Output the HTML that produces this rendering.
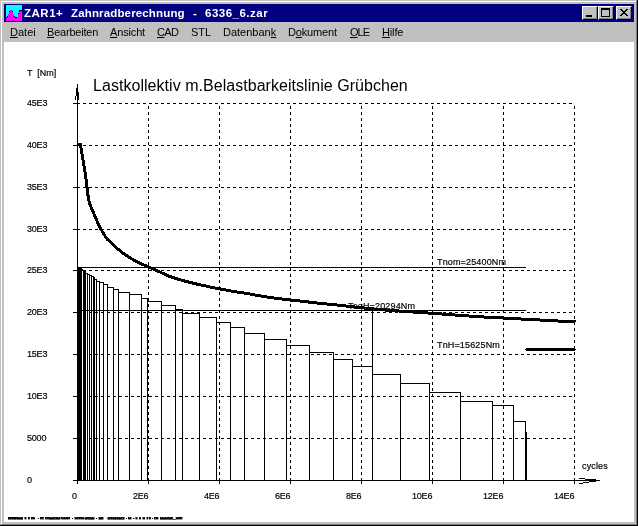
<!DOCTYPE html>
<html><head><meta charset="utf-8"><title>ZAR1+ Zahnradberechnung - 6336_6.zar</title>
<style>
html,body{margin:0;padding:0;background:#c0c0c0;}
body{width:638px;height:526px;position:relative;overflow:hidden;font-family:"Liberation Sans",sans-serif;}
.f{position:absolute;}
.s{-webkit-text-stroke:0.18px #000;}
.t{will-change:transform;position:absolute;white-space:pre;line-height:1.15;color:#000;font-family:"Liberation Sans",sans-serif;}
.btn{position:absolute;top:6px;width:16px;height:14px;background:#c0c0c0;box-sizing:border-box;
 border-top:1px solid #fff;border-left:1px solid #fff;border-right:1px solid #000;border-bottom:1px solid #000;}
.btn:after{content:"";position:absolute;left:0;top:0;right:0;bottom:0;border-right:1px solid #808080;border-bottom:1px solid #808080;}
svg{position:absolute;left:0;top:0;}
</style></head><body>
<!-- window frame -->
<div class="f" style="left:0;top:0;width:638px;height:526px;background:#c0c0c0"></div>
<div class="f" style="left:0;top:0;width:638px;height:526px;background:#000"></div>
<div class="f" style="left:0;top:0;width:637px;height:525px;background:#c0c0c0"></div>
<div class="f" style="left:1px;top:1px;width:636px;height:524px;background:#808080"></div>
<div class="f" style="left:1px;top:1px;width:635px;height:523px;background:#fff"></div>
<div class="f" style="left:2px;top:2px;width:634px;height:522px;background:#c0c0c0"></div>
<!-- title bar -->
<div class="f" style="left:4px;top:4px;width:630px;height:18px;background:#000080"></div>
<!-- client -->
<div class="f" style="left:4px;top:42px;width:630px;height:480px;background:#fff"></div>
<!-- caption buttons -->
<div class="btn" style="left:582px"></div>
<div class="btn" style="left:598px"></div>
<div class="btn" style="left:616px"></div>
<svg width="638" height="526" viewBox="0 0 638 526" shape-rendering="crispEdges">
<rect x="6" y="5" width="16" height="16" fill="#00ffff"/><rect x="6" y="18" width="1" height="3" fill="#ff00ff"/><rect x="7" y="17" width="1" height="4" fill="#ff00ff"/><rect x="8" y="14" width="1" height="7" fill="#ff00ff"/><rect x="9" y="12" width="1" height="9" fill="#ff00ff"/><rect x="10" y="10" width="1" height="11" fill="#ff00ff"/><rect x="11" y="10" width="1" height="11" fill="#ff00ff"/><rect x="12" y="12" width="1" height="9" fill="#ff00ff"/><rect x="13" y="14" width="1" height="7" fill="#ff00ff"/><rect x="14" y="17" width="1" height="4" fill="#ff00ff"/><rect x="15" y="18" width="1" height="3" fill="#ff00ff"/><rect x="16" y="18" width="1" height="3" fill="#ff00ff"/><rect x="17" y="17" width="1" height="4" fill="#ff00ff"/><rect x="18" y="14" width="1" height="7" fill="#ff00ff"/><rect x="19" y="12" width="1" height="9" fill="#ff00ff"/><rect x="20" y="11" width="1" height="10" fill="#ff00ff"/><rect x="21" y="11" width="1" height="10" fill="#ff00ff"/><rect x="6" y="17" width="1" height="1" fill="#000"/><rect x="7" y="16" width="1" height="1" fill="#000"/><rect x="9" y="11" width="1" height="1" fill="#000"/><rect x="12" y="11" width="1" height="1" fill="#000"/><rect x="14" y="16" width="1" height="1" fill="#000"/><rect x="15" y="17" width="1" height="1" fill="#000"/><rect x="16" y="17" width="1" height="1" fill="#000"/><rect x="18" y="13" width="1" height="1" fill="#000"/><rect x="19" y="10" width="1" height="1" fill="#000"/><rect x="19" y="11" width="1" height="1" fill="#000"/><rect x="20" y="10" width="1" height="1" fill="#000"/><rect x="21" y="10" width="1" height="1" fill="#000"/>
<!-- caption glyphs -->
<rect x="586" y="15" width="6" height="2" fill="#000"/>
<rect x="601" y="8" width="9" height="2" fill="#000"/><rect x="601" y="8" width="1" height="9" fill="#000"/><rect x="609" y="8" width="1" height="9" fill="#000"/><rect x="601" y="16" width="9" height="1" fill="#000"/>
<g><rect x="620" y="9" width="2" height="1" fill="#000"/><rect x="626" y="9" width="2" height="1" fill="#000"/><rect x="621" y="10" width="2" height="1" fill="#000"/><rect x="625" y="10" width="2" height="1" fill="#000"/><rect x="622" y="11" width="2" height="1" fill="#000"/><rect x="624" y="11" width="2" height="1" fill="#000"/><rect x="623" y="12" width="2" height="1" fill="#000"/><rect x="623" y="12" width="2" height="1" fill="#000"/><rect x="624" y="13" width="2" height="1" fill="#000"/><rect x="622" y="13" width="2" height="1" fill="#000"/><rect x="625" y="14" width="2" height="1" fill="#000"/><rect x="621" y="14" width="2" height="1" fill="#000"/><rect x="626" y="15" width="2" height="1" fill="#000"/><rect x="620" y="15" width="2" height="1" fill="#000"/></g>
<path fill="#000" d="M73 438h4v1h-4zM77 438h3v1h-3zM83 438h3v1h-3zM89 438h3v1h-3zM95 438h3v1h-3zM101 438h3v1h-3zM107 438h3v1h-3zM113 438h3v1h-3zM119 438h3v1h-3zM125 438h3v1h-3zM131 438h3v1h-3zM137 438h3v1h-3zM143 438h3v1h-3zM149 438h3v1h-3zM155 438h3v1h-3zM161 438h3v1h-3zM167 438h3v1h-3zM173 438h3v1h-3zM179 438h3v1h-3zM185 438h3v1h-3zM191 438h3v1h-3zM197 438h3v1h-3zM203 438h3v1h-3zM209 438h3v1h-3zM215 438h3v1h-3zM221 438h3v1h-3zM227 438h3v1h-3zM233 438h3v1h-3zM239 438h3v1h-3zM245 438h3v1h-3zM251 438h3v1h-3zM257 438h3v1h-3zM263 438h3v1h-3zM269 438h3v1h-3zM275 438h3v1h-3zM281 438h3v1h-3zM287 438h3v1h-3zM293 438h3v1h-3zM299 438h3v1h-3zM305 438h3v1h-3zM311 438h3v1h-3zM317 438h3v1h-3zM323 438h3v1h-3zM329 438h3v1h-3zM335 438h3v1h-3zM341 438h3v1h-3zM347 438h3v1h-3zM353 438h3v1h-3zM359 438h3v1h-3zM365 438h3v1h-3zM371 438h3v1h-3zM377 438h3v1h-3zM383 438h3v1h-3zM389 438h3v1h-3zM395 438h3v1h-3zM401 438h3v1h-3zM407 438h3v1h-3zM413 438h3v1h-3zM419 438h3v1h-3zM425 438h3v1h-3zM431 438h3v1h-3zM437 438h3v1h-3zM443 438h3v1h-3zM449 438h3v1h-3zM455 438h3v1h-3zM461 438h3v1h-3zM467 438h3v1h-3zM473 438h3v1h-3zM479 438h3v1h-3zM485 438h3v1h-3zM491 438h3v1h-3zM497 438h3v1h-3zM503 438h3v1h-3zM509 438h3v1h-3zM515 438h3v1h-3zM521 438h3v1h-3zM527 438h3v1h-3zM533 438h3v1h-3zM539 438h3v1h-3zM545 438h3v1h-3zM551 438h3v1h-3zM557 438h3v1h-3zM563 438h3v1h-3zM569 438h3v1h-3zM73 396h4v1h-4zM77 396h3v1h-3zM83 396h3v1h-3zM89 396h3v1h-3zM95 396h3v1h-3zM101 396h3v1h-3zM107 396h3v1h-3zM113 396h3v1h-3zM119 396h3v1h-3zM125 396h3v1h-3zM131 396h3v1h-3zM137 396h3v1h-3zM143 396h3v1h-3zM149 396h3v1h-3zM155 396h3v1h-3zM161 396h3v1h-3zM167 396h3v1h-3zM173 396h3v1h-3zM179 396h3v1h-3zM185 396h3v1h-3zM191 396h3v1h-3zM197 396h3v1h-3zM203 396h3v1h-3zM209 396h3v1h-3zM215 396h3v1h-3zM221 396h3v1h-3zM227 396h3v1h-3zM233 396h3v1h-3zM239 396h3v1h-3zM245 396h3v1h-3zM251 396h3v1h-3zM257 396h3v1h-3zM263 396h3v1h-3zM269 396h3v1h-3zM275 396h3v1h-3zM281 396h3v1h-3zM287 396h3v1h-3zM293 396h3v1h-3zM299 396h3v1h-3zM305 396h3v1h-3zM311 396h3v1h-3zM317 396h3v1h-3zM323 396h3v1h-3zM329 396h3v1h-3zM335 396h3v1h-3zM341 396h3v1h-3zM347 396h3v1h-3zM353 396h3v1h-3zM359 396h3v1h-3zM365 396h3v1h-3zM371 396h3v1h-3zM377 396h3v1h-3zM383 396h3v1h-3zM389 396h3v1h-3zM395 396h3v1h-3zM401 396h3v1h-3zM407 396h3v1h-3zM413 396h3v1h-3zM419 396h3v1h-3zM425 396h3v1h-3zM431 396h3v1h-3zM437 396h3v1h-3zM443 396h3v1h-3zM449 396h3v1h-3zM455 396h3v1h-3zM461 396h3v1h-3zM467 396h3v1h-3zM473 396h3v1h-3zM479 396h3v1h-3zM485 396h3v1h-3zM491 396h3v1h-3zM497 396h3v1h-3zM503 396h3v1h-3zM509 396h3v1h-3zM515 396h3v1h-3zM521 396h3v1h-3zM527 396h3v1h-3zM533 396h3v1h-3zM539 396h3v1h-3zM545 396h3v1h-3zM551 396h3v1h-3zM557 396h3v1h-3zM563 396h3v1h-3zM569 396h3v1h-3zM73 354h4v1h-4zM77 354h3v1h-3zM83 354h3v1h-3zM89 354h3v1h-3zM95 354h3v1h-3zM101 354h3v1h-3zM107 354h3v1h-3zM113 354h3v1h-3zM119 354h3v1h-3zM125 354h3v1h-3zM131 354h3v1h-3zM137 354h3v1h-3zM143 354h3v1h-3zM149 354h3v1h-3zM155 354h3v1h-3zM161 354h3v1h-3zM167 354h3v1h-3zM173 354h3v1h-3zM179 354h3v1h-3zM185 354h3v1h-3zM191 354h3v1h-3zM197 354h3v1h-3zM203 354h3v1h-3zM209 354h3v1h-3zM215 354h3v1h-3zM221 354h3v1h-3zM227 354h3v1h-3zM233 354h3v1h-3zM239 354h3v1h-3zM245 354h3v1h-3zM251 354h3v1h-3zM257 354h3v1h-3zM263 354h3v1h-3zM269 354h3v1h-3zM275 354h3v1h-3zM281 354h3v1h-3zM287 354h3v1h-3zM293 354h3v1h-3zM299 354h3v1h-3zM305 354h3v1h-3zM311 354h3v1h-3zM317 354h3v1h-3zM323 354h3v1h-3zM329 354h3v1h-3zM335 354h3v1h-3zM341 354h3v1h-3zM347 354h3v1h-3zM353 354h3v1h-3zM359 354h3v1h-3zM365 354h3v1h-3zM371 354h3v1h-3zM377 354h3v1h-3zM383 354h3v1h-3zM389 354h3v1h-3zM395 354h3v1h-3zM401 354h3v1h-3zM407 354h3v1h-3zM413 354h3v1h-3zM419 354h3v1h-3zM425 354h3v1h-3zM431 354h3v1h-3zM437 354h3v1h-3zM443 354h3v1h-3zM449 354h3v1h-3zM455 354h3v1h-3zM461 354h3v1h-3zM467 354h3v1h-3zM473 354h3v1h-3zM479 354h3v1h-3zM485 354h3v1h-3zM491 354h3v1h-3zM497 354h3v1h-3zM503 354h3v1h-3zM509 354h3v1h-3zM515 354h3v1h-3zM521 354h3v1h-3zM527 354h3v1h-3zM533 354h3v1h-3zM539 354h3v1h-3zM545 354h3v1h-3zM551 354h3v1h-3zM557 354h3v1h-3zM563 354h3v1h-3zM569 354h3v1h-3zM73 312h4v1h-4zM77 312h3v1h-3zM83 312h3v1h-3zM89 312h3v1h-3zM95 312h3v1h-3zM101 312h3v1h-3zM107 312h3v1h-3zM113 312h3v1h-3zM119 312h3v1h-3zM125 312h3v1h-3zM131 312h3v1h-3zM137 312h3v1h-3zM143 312h3v1h-3zM149 312h3v1h-3zM155 312h3v1h-3zM161 312h3v1h-3zM167 312h3v1h-3zM173 312h3v1h-3zM179 312h3v1h-3zM185 312h3v1h-3zM191 312h3v1h-3zM197 312h3v1h-3zM203 312h3v1h-3zM209 312h3v1h-3zM215 312h3v1h-3zM221 312h3v1h-3zM227 312h3v1h-3zM233 312h3v1h-3zM239 312h3v1h-3zM245 312h3v1h-3zM251 312h3v1h-3zM257 312h3v1h-3zM263 312h3v1h-3zM269 312h3v1h-3zM275 312h3v1h-3zM281 312h3v1h-3zM287 312h3v1h-3zM293 312h3v1h-3zM299 312h3v1h-3zM305 312h3v1h-3zM311 312h3v1h-3zM317 312h3v1h-3zM323 312h3v1h-3zM329 312h3v1h-3zM335 312h3v1h-3zM341 312h3v1h-3zM347 312h3v1h-3zM353 312h3v1h-3zM359 312h3v1h-3zM365 312h3v1h-3zM371 312h3v1h-3zM377 312h3v1h-3zM383 312h3v1h-3zM389 312h3v1h-3zM395 312h3v1h-3zM401 312h3v1h-3zM407 312h3v1h-3zM413 312h3v1h-3zM419 312h3v1h-3zM425 312h3v1h-3zM431 312h3v1h-3zM437 312h3v1h-3zM443 312h3v1h-3zM449 312h3v1h-3zM455 312h3v1h-3zM461 312h3v1h-3zM467 312h3v1h-3zM473 312h3v1h-3zM479 312h3v1h-3zM485 312h3v1h-3zM491 312h3v1h-3zM497 312h3v1h-3zM503 312h3v1h-3zM509 312h3v1h-3zM515 312h3v1h-3zM521 312h3v1h-3zM527 312h3v1h-3zM533 312h3v1h-3zM539 312h3v1h-3zM545 312h3v1h-3zM551 312h3v1h-3zM557 312h3v1h-3zM563 312h3v1h-3zM569 312h3v1h-3zM73 270h4v1h-4zM77 270h3v1h-3zM83 270h3v1h-3zM89 270h3v1h-3zM95 270h3v1h-3zM101 270h3v1h-3zM107 270h3v1h-3zM113 270h3v1h-3zM119 270h3v1h-3zM125 270h3v1h-3zM131 270h3v1h-3zM137 270h3v1h-3zM143 270h3v1h-3zM149 270h3v1h-3zM155 270h3v1h-3zM161 270h3v1h-3zM167 270h3v1h-3zM173 270h3v1h-3zM179 270h3v1h-3zM185 270h3v1h-3zM191 270h3v1h-3zM197 270h3v1h-3zM203 270h3v1h-3zM209 270h3v1h-3zM215 270h3v1h-3zM221 270h3v1h-3zM227 270h3v1h-3zM233 270h3v1h-3zM239 270h3v1h-3zM245 270h3v1h-3zM251 270h3v1h-3zM257 270h3v1h-3zM263 270h3v1h-3zM269 270h3v1h-3zM275 270h3v1h-3zM281 270h3v1h-3zM287 270h3v1h-3zM293 270h3v1h-3zM299 270h3v1h-3zM305 270h3v1h-3zM311 270h3v1h-3zM317 270h3v1h-3zM323 270h3v1h-3zM329 270h3v1h-3zM335 270h3v1h-3zM341 270h3v1h-3zM347 270h3v1h-3zM353 270h3v1h-3zM359 270h3v1h-3zM365 270h3v1h-3zM371 270h3v1h-3zM377 270h3v1h-3zM383 270h3v1h-3zM389 270h3v1h-3zM395 270h3v1h-3zM401 270h3v1h-3zM407 270h3v1h-3zM413 270h3v1h-3zM419 270h3v1h-3zM425 270h3v1h-3zM431 270h3v1h-3zM437 270h3v1h-3zM443 270h3v1h-3zM449 270h3v1h-3zM455 270h3v1h-3zM461 270h3v1h-3zM467 270h3v1h-3zM473 270h3v1h-3zM479 270h3v1h-3zM485 270h3v1h-3zM491 270h3v1h-3zM497 270h3v1h-3zM503 270h3v1h-3zM509 270h3v1h-3zM515 270h3v1h-3zM521 270h3v1h-3zM527 270h3v1h-3zM533 270h3v1h-3zM539 270h3v1h-3zM545 270h3v1h-3zM551 270h3v1h-3zM557 270h3v1h-3zM563 270h3v1h-3zM569 270h3v1h-3zM73 229h4v1h-4zM77 229h3v1h-3zM83 229h3v1h-3zM89 229h3v1h-3zM95 229h3v1h-3zM101 229h3v1h-3zM107 229h3v1h-3zM113 229h3v1h-3zM119 229h3v1h-3zM125 229h3v1h-3zM131 229h3v1h-3zM137 229h3v1h-3zM143 229h3v1h-3zM149 229h3v1h-3zM155 229h3v1h-3zM161 229h3v1h-3zM167 229h3v1h-3zM173 229h3v1h-3zM179 229h3v1h-3zM185 229h3v1h-3zM191 229h3v1h-3zM197 229h3v1h-3zM203 229h3v1h-3zM209 229h3v1h-3zM215 229h3v1h-3zM221 229h3v1h-3zM227 229h3v1h-3zM233 229h3v1h-3zM239 229h3v1h-3zM245 229h3v1h-3zM251 229h3v1h-3zM257 229h3v1h-3zM263 229h3v1h-3zM269 229h3v1h-3zM275 229h3v1h-3zM281 229h3v1h-3zM287 229h3v1h-3zM293 229h3v1h-3zM299 229h3v1h-3zM305 229h3v1h-3zM311 229h3v1h-3zM317 229h3v1h-3zM323 229h3v1h-3zM329 229h3v1h-3zM335 229h3v1h-3zM341 229h3v1h-3zM347 229h3v1h-3zM353 229h3v1h-3zM359 229h3v1h-3zM365 229h3v1h-3zM371 229h3v1h-3zM377 229h3v1h-3zM383 229h3v1h-3zM389 229h3v1h-3zM395 229h3v1h-3zM401 229h3v1h-3zM407 229h3v1h-3zM413 229h3v1h-3zM419 229h3v1h-3zM425 229h3v1h-3zM431 229h3v1h-3zM437 229h3v1h-3zM443 229h3v1h-3zM449 229h3v1h-3zM455 229h3v1h-3zM461 229h3v1h-3zM467 229h3v1h-3zM473 229h3v1h-3zM479 229h3v1h-3zM485 229h3v1h-3zM491 229h3v1h-3zM497 229h3v1h-3zM503 229h3v1h-3zM509 229h3v1h-3zM515 229h3v1h-3zM521 229h3v1h-3zM527 229h3v1h-3zM533 229h3v1h-3zM539 229h3v1h-3zM545 229h3v1h-3zM551 229h3v1h-3zM557 229h3v1h-3zM563 229h3v1h-3zM569 229h3v1h-3zM73 187h4v1h-4zM77 187h3v1h-3zM83 187h3v1h-3zM89 187h3v1h-3zM95 187h3v1h-3zM101 187h3v1h-3zM107 187h3v1h-3zM113 187h3v1h-3zM119 187h3v1h-3zM125 187h3v1h-3zM131 187h3v1h-3zM137 187h3v1h-3zM143 187h3v1h-3zM149 187h3v1h-3zM155 187h3v1h-3zM161 187h3v1h-3zM167 187h3v1h-3zM173 187h3v1h-3zM179 187h3v1h-3zM185 187h3v1h-3zM191 187h3v1h-3zM197 187h3v1h-3zM203 187h3v1h-3zM209 187h3v1h-3zM215 187h3v1h-3zM221 187h3v1h-3zM227 187h3v1h-3zM233 187h3v1h-3zM239 187h3v1h-3zM245 187h3v1h-3zM251 187h3v1h-3zM257 187h3v1h-3zM263 187h3v1h-3zM269 187h3v1h-3zM275 187h3v1h-3zM281 187h3v1h-3zM287 187h3v1h-3zM293 187h3v1h-3zM299 187h3v1h-3zM305 187h3v1h-3zM311 187h3v1h-3zM317 187h3v1h-3zM323 187h3v1h-3zM329 187h3v1h-3zM335 187h3v1h-3zM341 187h3v1h-3zM347 187h3v1h-3zM353 187h3v1h-3zM359 187h3v1h-3zM365 187h3v1h-3zM371 187h3v1h-3zM377 187h3v1h-3zM383 187h3v1h-3zM389 187h3v1h-3zM395 187h3v1h-3zM401 187h3v1h-3zM407 187h3v1h-3zM413 187h3v1h-3zM419 187h3v1h-3zM425 187h3v1h-3zM431 187h3v1h-3zM437 187h3v1h-3zM443 187h3v1h-3zM449 187h3v1h-3zM455 187h3v1h-3zM461 187h3v1h-3zM467 187h3v1h-3zM473 187h3v1h-3zM479 187h3v1h-3zM485 187h3v1h-3zM491 187h3v1h-3zM497 187h3v1h-3zM503 187h3v1h-3zM509 187h3v1h-3zM515 187h3v1h-3zM521 187h3v1h-3zM527 187h3v1h-3zM533 187h3v1h-3zM539 187h3v1h-3zM545 187h3v1h-3zM551 187h3v1h-3zM557 187h3v1h-3zM563 187h3v1h-3zM569 187h3v1h-3zM73 145h4v1h-4zM77 145h3v1h-3zM83 145h3v1h-3zM89 145h3v1h-3zM95 145h3v1h-3zM101 145h3v1h-3zM107 145h3v1h-3zM113 145h3v1h-3zM119 145h3v1h-3zM125 145h3v1h-3zM131 145h3v1h-3zM137 145h3v1h-3zM143 145h3v1h-3zM149 145h3v1h-3zM155 145h3v1h-3zM161 145h3v1h-3zM167 145h3v1h-3zM173 145h3v1h-3zM179 145h3v1h-3zM185 145h3v1h-3zM191 145h3v1h-3zM197 145h3v1h-3zM203 145h3v1h-3zM209 145h3v1h-3zM215 145h3v1h-3zM221 145h3v1h-3zM227 145h3v1h-3zM233 145h3v1h-3zM239 145h3v1h-3zM245 145h3v1h-3zM251 145h3v1h-3zM257 145h3v1h-3zM263 145h3v1h-3zM269 145h3v1h-3zM275 145h3v1h-3zM281 145h3v1h-3zM287 145h3v1h-3zM293 145h3v1h-3zM299 145h3v1h-3zM305 145h3v1h-3zM311 145h3v1h-3zM317 145h3v1h-3zM323 145h3v1h-3zM329 145h3v1h-3zM335 145h3v1h-3zM341 145h3v1h-3zM347 145h3v1h-3zM353 145h3v1h-3zM359 145h3v1h-3zM365 145h3v1h-3zM371 145h3v1h-3zM377 145h3v1h-3zM383 145h3v1h-3zM389 145h3v1h-3zM395 145h3v1h-3zM401 145h3v1h-3zM407 145h3v1h-3zM413 145h3v1h-3zM419 145h3v1h-3zM425 145h3v1h-3zM431 145h3v1h-3zM437 145h3v1h-3zM443 145h3v1h-3zM449 145h3v1h-3zM455 145h3v1h-3zM461 145h3v1h-3zM467 145h3v1h-3zM473 145h3v1h-3zM479 145h3v1h-3zM485 145h3v1h-3zM491 145h3v1h-3zM497 145h3v1h-3zM503 145h3v1h-3zM509 145h3v1h-3zM515 145h3v1h-3zM521 145h3v1h-3zM527 145h3v1h-3zM533 145h3v1h-3zM539 145h3v1h-3zM545 145h3v1h-3zM551 145h3v1h-3zM557 145h3v1h-3zM563 145h3v1h-3zM569 145h3v1h-3zM73 103h4v1h-4zM77 103h3v1h-3zM83 103h3v1h-3zM89 103h3v1h-3zM95 103h3v1h-3zM101 103h3v1h-3zM107 103h3v1h-3zM113 103h3v1h-3zM119 103h3v1h-3zM125 103h3v1h-3zM131 103h3v1h-3zM137 103h3v1h-3zM143 103h3v1h-3zM149 103h3v1h-3zM155 103h3v1h-3zM161 103h3v1h-3zM167 103h3v1h-3zM173 103h3v1h-3zM179 103h3v1h-3zM185 103h3v1h-3zM191 103h3v1h-3zM197 103h3v1h-3zM203 103h3v1h-3zM209 103h3v1h-3zM215 103h3v1h-3zM221 103h3v1h-3zM227 103h3v1h-3zM233 103h3v1h-3zM239 103h3v1h-3zM245 103h3v1h-3zM251 103h3v1h-3zM257 103h3v1h-3zM263 103h3v1h-3zM269 103h3v1h-3zM275 103h3v1h-3zM281 103h3v1h-3zM287 103h3v1h-3zM293 103h3v1h-3zM299 103h3v1h-3zM305 103h3v1h-3zM311 103h3v1h-3zM317 103h3v1h-3zM323 103h3v1h-3zM329 103h3v1h-3zM335 103h3v1h-3zM341 103h3v1h-3zM347 103h3v1h-3zM353 103h3v1h-3zM359 103h3v1h-3zM365 103h3v1h-3zM371 103h3v1h-3zM377 103h3v1h-3zM383 103h3v1h-3zM389 103h3v1h-3zM395 103h3v1h-3zM401 103h3v1h-3zM407 103h3v1h-3zM413 103h3v1h-3zM419 103h3v1h-3zM425 103h3v1h-3zM431 103h3v1h-3zM437 103h3v1h-3zM443 103h3v1h-3zM449 103h3v1h-3zM455 103h3v1h-3zM461 103h3v1h-3zM467 103h3v1h-3zM473 103h3v1h-3zM479 103h3v1h-3zM485 103h3v1h-3zM491 103h3v1h-3zM497 103h3v1h-3zM503 103h3v1h-3zM509 103h3v1h-3zM515 103h3v1h-3zM521 103h3v1h-3zM527 103h3v1h-3zM533 103h3v1h-3zM539 103h3v1h-3zM545 103h3v1h-3zM551 103h3v1h-3zM557 103h3v1h-3zM563 103h3v1h-3zM569 103h3v1h-3zM148 481h1v3h-1zM148 478h1v3h-1zM148 472h1v3h-1zM148 466h1v3h-1zM148 460h1v3h-1zM148 454h1v3h-1zM148 448h1v3h-1zM148 442h1v3h-1zM148 436h1v3h-1zM148 430h1v3h-1zM148 424h1v3h-1zM148 418h1v3h-1zM148 412h1v3h-1zM148 406h1v3h-1zM148 400h1v3h-1zM148 394h1v3h-1zM148 388h1v3h-1zM148 382h1v3h-1zM148 376h1v3h-1zM148 370h1v3h-1zM148 364h1v3h-1zM148 358h1v3h-1zM148 352h1v3h-1zM148 346h1v3h-1zM148 340h1v3h-1zM148 334h1v3h-1zM148 328h1v3h-1zM148 322h1v3h-1zM148 316h1v3h-1zM148 310h1v3h-1zM148 304h1v3h-1zM148 298h1v3h-1zM148 292h1v3h-1zM148 286h1v3h-1zM148 280h1v3h-1zM148 274h1v3h-1zM148 268h1v3h-1zM148 262h1v3h-1zM148 256h1v3h-1zM148 250h1v3h-1zM148 244h1v3h-1zM148 238h1v3h-1zM148 232h1v3h-1zM148 226h1v3h-1zM148 220h1v3h-1zM148 214h1v3h-1zM148 208h1v3h-1zM148 202h1v3h-1zM148 196h1v3h-1zM148 190h1v3h-1zM148 184h1v3h-1zM148 178h1v3h-1zM148 172h1v3h-1zM148 166h1v3h-1zM148 160h1v3h-1zM148 154h1v3h-1zM148 148h1v3h-1zM148 142h1v3h-1zM148 136h1v3h-1zM148 130h1v3h-1zM148 124h1v3h-1zM148 118h1v3h-1zM148 112h1v3h-1zM148 106h1v3h-1zM219 481h1v3h-1zM219 478h1v3h-1zM219 472h1v3h-1zM219 466h1v3h-1zM219 460h1v3h-1zM219 454h1v3h-1zM219 448h1v3h-1zM219 442h1v3h-1zM219 436h1v3h-1zM219 430h1v3h-1zM219 424h1v3h-1zM219 418h1v3h-1zM219 412h1v3h-1zM219 406h1v3h-1zM219 400h1v3h-1zM219 394h1v3h-1zM219 388h1v3h-1zM219 382h1v3h-1zM219 376h1v3h-1zM219 370h1v3h-1zM219 364h1v3h-1zM219 358h1v3h-1zM219 352h1v3h-1zM219 346h1v3h-1zM219 340h1v3h-1zM219 334h1v3h-1zM219 328h1v3h-1zM219 322h1v3h-1zM219 316h1v3h-1zM219 310h1v3h-1zM219 304h1v3h-1zM219 298h1v3h-1zM219 292h1v3h-1zM219 286h1v3h-1zM219 280h1v3h-1zM219 274h1v3h-1zM219 268h1v3h-1zM219 262h1v3h-1zM219 256h1v3h-1zM219 250h1v3h-1zM219 244h1v3h-1zM219 238h1v3h-1zM219 232h1v3h-1zM219 226h1v3h-1zM219 220h1v3h-1zM219 214h1v3h-1zM219 208h1v3h-1zM219 202h1v3h-1zM219 196h1v3h-1zM219 190h1v3h-1zM219 184h1v3h-1zM219 178h1v3h-1zM219 172h1v3h-1zM219 166h1v3h-1zM219 160h1v3h-1zM219 154h1v3h-1zM219 148h1v3h-1zM219 142h1v3h-1zM219 136h1v3h-1zM219 130h1v3h-1zM219 124h1v3h-1zM219 118h1v3h-1zM219 112h1v3h-1zM219 106h1v3h-1zM290 481h1v3h-1zM290 478h1v3h-1zM290 472h1v3h-1zM290 466h1v3h-1zM290 460h1v3h-1zM290 454h1v3h-1zM290 448h1v3h-1zM290 442h1v3h-1zM290 436h1v3h-1zM290 430h1v3h-1zM290 424h1v3h-1zM290 418h1v3h-1zM290 412h1v3h-1zM290 406h1v3h-1zM290 400h1v3h-1zM290 394h1v3h-1zM290 388h1v3h-1zM290 382h1v3h-1zM290 376h1v3h-1zM290 370h1v3h-1zM290 364h1v3h-1zM290 358h1v3h-1zM290 352h1v3h-1zM290 346h1v3h-1zM290 340h1v3h-1zM290 334h1v3h-1zM290 328h1v3h-1zM290 322h1v3h-1zM290 316h1v3h-1zM290 310h1v3h-1zM290 304h1v3h-1zM290 298h1v3h-1zM290 292h1v3h-1zM290 286h1v3h-1zM290 280h1v3h-1zM290 274h1v3h-1zM290 268h1v3h-1zM290 262h1v3h-1zM290 256h1v3h-1zM290 250h1v3h-1zM290 244h1v3h-1zM290 238h1v3h-1zM290 232h1v3h-1zM290 226h1v3h-1zM290 220h1v3h-1zM290 214h1v3h-1zM290 208h1v3h-1zM290 202h1v3h-1zM290 196h1v3h-1zM290 190h1v3h-1zM290 184h1v3h-1zM290 178h1v3h-1zM290 172h1v3h-1zM290 166h1v3h-1zM290 160h1v3h-1zM290 154h1v3h-1zM290 148h1v3h-1zM290 142h1v3h-1zM290 136h1v3h-1zM290 130h1v3h-1zM290 124h1v3h-1zM290 118h1v3h-1zM290 112h1v3h-1zM290 106h1v3h-1zM361 481h1v3h-1zM361 478h1v3h-1zM361 472h1v3h-1zM361 466h1v3h-1zM361 460h1v3h-1zM361 454h1v3h-1zM361 448h1v3h-1zM361 442h1v3h-1zM361 436h1v3h-1zM361 430h1v3h-1zM361 424h1v3h-1zM361 418h1v3h-1zM361 412h1v3h-1zM361 406h1v3h-1zM361 400h1v3h-1zM361 394h1v3h-1zM361 388h1v3h-1zM361 382h1v3h-1zM361 376h1v3h-1zM361 370h1v3h-1zM361 364h1v3h-1zM361 358h1v3h-1zM361 352h1v3h-1zM361 346h1v3h-1zM361 340h1v3h-1zM361 334h1v3h-1zM361 328h1v3h-1zM361 322h1v3h-1zM361 316h1v3h-1zM361 310h1v3h-1zM361 304h1v3h-1zM361 298h1v3h-1zM361 292h1v3h-1zM361 286h1v3h-1zM361 280h1v3h-1zM361 274h1v3h-1zM361 268h1v3h-1zM361 262h1v3h-1zM361 256h1v3h-1zM361 250h1v3h-1zM361 244h1v3h-1zM361 238h1v3h-1zM361 232h1v3h-1zM361 226h1v3h-1zM361 220h1v3h-1zM361 214h1v3h-1zM361 208h1v3h-1zM361 202h1v3h-1zM361 196h1v3h-1zM361 190h1v3h-1zM361 184h1v3h-1zM361 178h1v3h-1zM361 172h1v3h-1zM361 166h1v3h-1zM361 160h1v3h-1zM361 154h1v3h-1zM361 148h1v3h-1zM361 142h1v3h-1zM361 136h1v3h-1zM361 130h1v3h-1zM361 124h1v3h-1zM361 118h1v3h-1zM361 112h1v3h-1zM361 106h1v3h-1zM432 481h1v3h-1zM432 478h1v3h-1zM432 472h1v3h-1zM432 466h1v3h-1zM432 460h1v3h-1zM432 454h1v3h-1zM432 448h1v3h-1zM432 442h1v3h-1zM432 436h1v3h-1zM432 430h1v3h-1zM432 424h1v3h-1zM432 418h1v3h-1zM432 412h1v3h-1zM432 406h1v3h-1zM432 400h1v3h-1zM432 394h1v3h-1zM432 388h1v3h-1zM432 382h1v3h-1zM432 376h1v3h-1zM432 370h1v3h-1zM432 364h1v3h-1zM432 358h1v3h-1zM432 352h1v3h-1zM432 346h1v3h-1zM432 340h1v3h-1zM432 334h1v3h-1zM432 328h1v3h-1zM432 322h1v3h-1zM432 316h1v3h-1zM432 310h1v3h-1zM432 304h1v3h-1zM432 298h1v3h-1zM432 292h1v3h-1zM432 286h1v3h-1zM432 280h1v3h-1zM432 274h1v3h-1zM432 268h1v3h-1zM432 262h1v3h-1zM432 256h1v3h-1zM432 250h1v3h-1zM432 244h1v3h-1zM432 238h1v3h-1zM432 232h1v3h-1zM432 226h1v3h-1zM432 220h1v3h-1zM432 214h1v3h-1zM432 208h1v3h-1zM432 202h1v3h-1zM432 196h1v3h-1zM432 190h1v3h-1zM432 184h1v3h-1zM432 178h1v3h-1zM432 172h1v3h-1zM432 166h1v3h-1zM432 160h1v3h-1zM432 154h1v3h-1zM432 148h1v3h-1zM432 142h1v3h-1zM432 136h1v3h-1zM432 130h1v3h-1zM432 124h1v3h-1zM432 118h1v3h-1zM432 112h1v3h-1zM432 106h1v3h-1zM503 481h1v3h-1zM503 478h1v3h-1zM503 472h1v3h-1zM503 466h1v3h-1zM503 460h1v3h-1zM503 454h1v3h-1zM503 448h1v3h-1zM503 442h1v3h-1zM503 436h1v3h-1zM503 430h1v3h-1zM503 424h1v3h-1zM503 418h1v3h-1zM503 412h1v3h-1zM503 406h1v3h-1zM503 400h1v3h-1zM503 394h1v3h-1zM503 388h1v3h-1zM503 382h1v3h-1zM503 376h1v3h-1zM503 370h1v3h-1zM503 364h1v3h-1zM503 358h1v3h-1zM503 352h1v3h-1zM503 346h1v3h-1zM503 340h1v3h-1zM503 334h1v3h-1zM503 328h1v3h-1zM503 322h1v3h-1zM503 316h1v3h-1zM503 310h1v3h-1zM503 304h1v3h-1zM503 298h1v3h-1zM503 292h1v3h-1zM503 286h1v3h-1zM503 280h1v3h-1zM503 274h1v3h-1zM503 268h1v3h-1zM503 262h1v3h-1zM503 256h1v3h-1zM503 250h1v3h-1zM503 244h1v3h-1zM503 238h1v3h-1zM503 232h1v3h-1zM503 226h1v3h-1zM503 220h1v3h-1zM503 214h1v3h-1zM503 208h1v3h-1zM503 202h1v3h-1zM503 196h1v3h-1zM503 190h1v3h-1zM503 184h1v3h-1zM503 178h1v3h-1zM503 172h1v3h-1zM503 166h1v3h-1zM503 160h1v3h-1zM503 154h1v3h-1zM503 148h1v3h-1zM503 142h1v3h-1zM503 136h1v3h-1zM503 130h1v3h-1zM503 124h1v3h-1zM503 118h1v3h-1zM503 112h1v3h-1zM503 106h1v3h-1zM574 481h1v3h-1zM574 478h1v3h-1zM574 472h1v3h-1zM574 466h1v3h-1zM574 460h1v3h-1zM574 454h1v3h-1zM574 448h1v3h-1zM574 442h1v3h-1zM574 436h1v3h-1zM574 430h1v3h-1zM574 424h1v3h-1zM574 418h1v3h-1zM574 412h1v3h-1zM574 406h1v3h-1zM574 400h1v3h-1zM574 394h1v3h-1zM574 388h1v3h-1zM574 382h1v3h-1zM574 376h1v3h-1zM574 370h1v3h-1zM574 364h1v3h-1zM574 358h1v3h-1zM574 352h1v3h-1zM574 346h1v3h-1zM574 340h1v3h-1zM574 334h1v3h-1zM574 328h1v3h-1zM574 322h1v3h-1zM574 316h1v3h-1zM574 310h1v3h-1zM574 304h1v3h-1zM574 298h1v3h-1zM574 292h1v3h-1zM574 286h1v3h-1zM574 280h1v3h-1zM574 274h1v3h-1zM574 268h1v3h-1zM574 262h1v3h-1zM574 256h1v3h-1zM574 250h1v3h-1zM574 244h1v3h-1zM574 238h1v3h-1zM574 232h1v3h-1zM574 226h1v3h-1zM574 220h1v3h-1zM574 214h1v3h-1zM574 208h1v3h-1zM574 202h1v3h-1zM574 196h1v3h-1zM574 190h1v3h-1zM574 184h1v3h-1zM574 178h1v3h-1zM574 172h1v3h-1zM574 166h1v3h-1zM574 160h1v3h-1zM574 154h1v3h-1zM574 148h1v3h-1zM574 142h1v3h-1zM574 136h1v3h-1zM574 130h1v3h-1zM574 124h1v3h-1zM574 118h1v3h-1zM574 112h1v3h-1zM574 106h1v3h-1zM73 480h4v1h-4zM77 481h1v3h-1zM77 84h1v397h-1zM77 480h523v1h-523zM76 88h1v8h-1zM75 96h1v4h-1zM78 92h1v8h-1zM579 478h6v1h-6zM585 479h11v1h-11zM579 483h4v1h-4zM583 482h6v1h-6zM589 481h7v1h-7zM77 267h1v213h-1zM78 267h1v213h-1zM77 267h2v1h-2zM78 267h1v213h-1zM79 267h1v213h-1zM78 267h2v1h-2zM79 267h1v213h-1zM80 267h1v213h-1zM79 267h2v1h-2zM80 268h1v212h-1zM81 268h1v212h-1zM80 268h2v1h-2zM81 270h1v210h-1zM83 270h1v210h-1zM81 270h3v1h-3zM83 270h1v210h-1zM84 270h1v210h-1zM83 270h2v1h-2zM84 271h1v209h-1zM85 271h1v209h-1zM84 271h2v1h-2zM85 273h1v207h-1zM87 273h1v207h-1zM85 273h3v1h-3zM87 274h1v206h-1zM89 274h1v206h-1zM87 274h3v1h-3zM89 275h1v205h-1zM91 275h1v205h-1zM89 275h3v1h-3zM91 276h1v204h-1zM93 276h1v204h-1zM91 276h3v1h-3zM93 277h1v203h-1zM94 277h1v203h-1zM93 277h2v1h-2zM94 279h1v201h-1zM96 279h1v201h-1zM94 279h3v1h-3zM96 281h1v199h-1zM99 281h1v199h-1zM96 281h4v1h-4zM99 282h1v198h-1zM103 282h1v198h-1zM99 282h5v1h-5zM103 284h1v196h-1zM107 284h1v196h-1zM103 284h5v1h-5zM107 287h1v193h-1zM113 287h1v193h-1zM107 287h7v1h-7zM113 289h1v191h-1zM118 289h1v191h-1zM113 289h6v1h-6zM118 292h1v188h-1zM129 292h1v188h-1zM118 292h12v1h-12zM129 294h1v186h-1zM141 294h1v186h-1zM129 294h13v1h-13zM141 298h1v182h-1zM147 298h1v182h-1zM141 298h7v1h-7zM147 301h1v179h-1zM161 301h1v179h-1zM147 301h15v1h-15zM161 305h1v175h-1zM175 305h1v175h-1zM161 305h15v1h-15zM175 309h1v171h-1zM182 309h1v171h-1zM175 309h8v1h-8zM182 313h1v167h-1zM199 313h1v167h-1zM182 313h18v1h-18zM199 317h1v163h-1zM216 317h1v163h-1zM199 317h18v1h-18zM216 322h1v158h-1zM230 322h1v158h-1zM216 322h15v1h-15zM230 327h1v153h-1zM244 327h1v153h-1zM230 327h15v1h-15zM244 333h1v147h-1zM264 333h1v147h-1zM244 333h21v1h-21zM264 339h1v141h-1zM286 339h1v141h-1zM264 339h23v1h-23zM286 345h1v135h-1zM309 345h1v135h-1zM286 345h24v1h-24zM309 352h1v128h-1zM333 352h1v128h-1zM309 352h25v1h-25zM333 359h1v121h-1zM352 359h1v121h-1zM333 359h20v1h-20zM352 366h1v114h-1zM372 366h1v114h-1zM352 366h21v1h-21zM372 374h1v106h-1zM400 374h1v106h-1zM372 374h29v1h-29zM400 383h1v97h-1zM429 383h1v97h-1zM400 383h30v1h-30zM429 392h1v88h-1zM460 392h1v88h-1zM429 392h32v1h-32zM460 401h1v79h-1zM492 401h1v79h-1zM460 401h33v1h-33zM492 405h1v75h-1zM513 405h1v75h-1zM492 405h22v1h-22zM513 421h1v59h-1zM525 421h1v59h-1zM513 421h13v1h-13zM525 432h1v48h-1zM526 432h1v48h-1zM525 432h2v1h-2zM82 269h1v1h-1zM372 310h1v170h-1zM77 267h449v1h-449zM77 310h449v1h-449zM526 348h49v3h-49zM525 349h51v1h-51z"/>
<polyline fill="none" stroke="#000" stroke-width="3" stroke-linejoin="round" stroke-linecap="butt" points="76.5,144.5 80.5,144.5 85.5,175 87.1,187.3 88.3,198 89.7,204 92.5,210.3 95.4,217.2 98.2,224 100,227.3 103.4,233.6 106.8,238.7 111.4,243.2 117.1,248.4 122.8,252.9 128.5,256.9 134.2,260.3 139.9,263.2 147.9,266.6 155,269.7 162,273 169.1,276.2 176.2,278.6 183.2,280.7 190.3,282.5 197.3,284.2 204.4,285.7 211.4,287.3 219.9,288.9 228.3,290.5 236.8,292 245,293.1 255.7,295.1 271.3,297.7 290.5,300.1 302.7,301.3 318.4,303.2 340,305.3 360,307.6 372.6,308.9 390,310.4 413,312 435,313.5 455,315 480,316.8 503,318 521,319 539.5,320 557.6,321 575.5,322"/>
<g shape-rendering="auto"><rect x="8" y="517" width="15" height="2.6" fill="#000"/><rect x="49" y="517" width="11" height="2.6" fill="#000"/><rect x="84.5" y="517" width="10.0" height="2.6" fill="#000"/><rect x="98.5" y="517" width="5.0" height="2.6" fill="#000"/><rect x="160" y="517" width="13" height="2.6" fill="#000"/><rect x="107.5" y="517" width="17.0" height="2.6" fill="#000"/><rect x="24.5" y="517" width="2.0" height="2.4" fill="#000"/><rect x="28" y="517" width="2" height="2.4" fill="#000"/><rect x="31" y="517" width="4" height="2.4" fill="#000"/><rect x="40" y="517" width="4" height="2.4" fill="#000"/><rect x="45" y="517" width="4" height="2.4" fill="#000"/><rect x="60.5" y="517" width="9.5" height="2.4" fill="#000"/><rect x="74.5" y="517" width="9.5" height="2.4" fill="#000"/><rect x="128" y="517" width="3.5" height="2.4" fill="#000"/><rect x="135.5" y="517" width="2.0" height="2.4" fill="#000"/><rect x="139" y="517" width="2" height="2.4" fill="#000"/><rect x="142.5" y="517" width="2.5" height="2.4" fill="#000"/><rect x="146.5" y="517" width="1.5" height="2.4" fill="#000"/><rect x="148.7" y="517" width="2.3000000000000114" height="2.4" fill="#000"/><rect x="154" y="517" width="4.5" height="2.4" fill="#000"/><rect x="175.7" y="517" width="6.800000000000011" height="2.4" fill="#000"/><rect x="38" y="518" width="1" height="1" fill="#000"/><rect x="72" y="518" width="1" height="1" fill="#000"/><rect x="96" y="518" width="1" height="1" fill="#000"/><rect x="126" y="518" width="1" height="1" fill="#000"/><rect x="133" y="518" width="1.4000000000000057" height="1" fill="#000"/><rect x="152" y="518" width="1" height="1" fill="#000"/><rect x="172.7" y="519.3" width="3" height="0.7" fill="#000"/><rect x="9.2" y="518.6" width="0.7" height="0.9" fill="#fff" opacity="0.6"/><rect x="11.3" y="518.6" width="0.7" height="0.9" fill="#fff" opacity="0.6"/><rect x="13.4" y="518.6" width="0.7" height="0.9" fill="#fff" opacity="0.6"/><rect x="16.0" y="518.6" width="0.7" height="0.9" fill="#fff" opacity="0.6"/><rect x="18.6" y="517.0" width="0.7" height="0.9" fill="#fff" opacity="0.6"/><rect x="20.7" y="517.0" width="0.7" height="0.9" fill="#fff" opacity="0.6"/><rect x="50.2" y="517.0" width="0.7" height="0.9" fill="#fff" opacity="0.6"/><rect x="51.8" y="517.0" width="0.7" height="0.9" fill="#fff" opacity="0.6"/><rect x="53.9" y="517.8" width="0.7" height="0.9" fill="#fff" opacity="0.6"/><rect x="55.5" y="517.8" width="0.7" height="0.9" fill="#fff" opacity="0.6"/><rect x="58.1" y="517.0" width="0.7" height="0.9" fill="#fff" opacity="0.6"/><rect x="85.7" y="517.0" width="0.7" height="0.9" fill="#fff" opacity="0.6"/><rect x="87.3" y="518.6" width="0.7" height="0.9" fill="#fff" opacity="0.6"/><rect x="88.9" y="517.8" width="0.7" height="0.9" fill="#fff" opacity="0.6"/><rect x="91.0" y="517.0" width="0.7" height="0.9" fill="#fff" opacity="0.6"/><rect x="93.1" y="517.0" width="0.7" height="0.9" fill="#fff" opacity="0.6"/><rect x="99.7" y="517.0" width="0.7" height="0.9" fill="#fff" opacity="0.6"/><rect x="102.3" y="518.6" width="0.7" height="0.9" fill="#fff" opacity="0.6"/><rect x="161.2" y="517.0" width="0.7" height="0.9" fill="#fff" opacity="0.6"/><rect x="162.8" y="517.0" width="0.7" height="0.9" fill="#fff" opacity="0.6"/><rect x="164.4" y="517.0" width="0.7" height="0.9" fill="#fff" opacity="0.6"/><rect x="166.0" y="517.0" width="0.7" height="0.9" fill="#fff" opacity="0.6"/><rect x="167.6" y="517.8" width="0.7" height="0.9" fill="#fff" opacity="0.6"/><rect x="169.7" y="517.0" width="0.7" height="0.9" fill="#fff" opacity="0.6"/><rect x="172.3" y="518.6" width="0.7" height="0.9" fill="#fff" opacity="0.6"/><rect x="108.7" y="517.0" width="0.7" height="0.9" fill="#fff" opacity="0.6"/><rect x="110.3" y="518.6" width="0.7" height="0.9" fill="#fff" opacity="0.6"/><rect x="111.9" y="517.8" width="0.7" height="0.9" fill="#fff" opacity="0.6"/><rect x="114.0" y="517.0" width="0.7" height="0.9" fill="#fff" opacity="0.6"/><rect x="116.1" y="517.8" width="0.7" height="0.9" fill="#fff" opacity="0.6"/><rect x="117.7" y="517.0" width="0.7" height="0.9" fill="#fff" opacity="0.6"/><rect x="119.8" y="517.0" width="0.7" height="0.9" fill="#fff" opacity="0.6"/><rect x="121.9" y="517.8" width="0.7" height="0.9" fill="#fff" opacity="0.6"/><rect x="25.7" y="518.6" width="0.7" height="0.9" fill="#fff" opacity="0.6"/><rect x="29.2" y="518.6" width="0.7" height="0.9" fill="#fff" opacity="0.6"/><rect x="32.2" y="518.6" width="0.7" height="0.9" fill="#fff" opacity="0.6"/><rect x="34.3" y="517.0" width="0.7" height="0.9" fill="#fff" opacity="0.6"/><rect x="41.2" y="517.8" width="0.7" height="0.9" fill="#fff" opacity="0.6"/><rect x="43.3" y="517.8" width="0.7" height="0.9" fill="#fff" opacity="0.6"/><rect x="46.2" y="517.8" width="0.7" height="0.9" fill="#fff" opacity="0.6"/><rect x="47.8" y="517.8" width="0.7" height="0.9" fill="#fff" opacity="0.6"/><rect x="61.7" y="518.6" width="0.7" height="0.9" fill="#fff" opacity="0.6"/><rect x="63.3" y="517.0" width="0.7" height="0.9" fill="#fff" opacity="0.6"/><rect x="65.4" y="517.0" width="0.7" height="0.9" fill="#fff" opacity="0.6"/><rect x="68.0" y="517.8" width="0.7" height="0.9" fill="#fff" opacity="0.6"/><rect x="75.7" y="517.0" width="0.7" height="0.9" fill="#fff" opacity="0.6"/><rect x="78.3" y="517.8" width="0.7" height="0.9" fill="#fff" opacity="0.6"/><rect x="80.4" y="517.8" width="0.7" height="0.9" fill="#fff" opacity="0.6"/><rect x="83.0" y="517.0" width="0.7" height="0.9" fill="#fff" opacity="0.6"/><rect x="129.2" y="517.0" width="0.7" height="0.9" fill="#fff" opacity="0.6"/><rect x="136.7" y="517.0" width="0.7" height="0.9" fill="#fff" opacity="0.6"/><rect x="140.2" y="517.0" width="0.7" height="0.9" fill="#fff" opacity="0.6"/><rect x="143.7" y="517.0" width="0.7" height="0.9" fill="#fff" opacity="0.6"/><rect x="149.9" y="517.8" width="0.7" height="0.9" fill="#fff" opacity="0.6"/><rect x="155.2" y="517.8" width="0.7" height="0.9" fill="#fff" opacity="0.6"/><rect x="157.8" y="517.8" width="0.7" height="0.9" fill="#fff" opacity="0.6"/><rect x="176.9" y="517.0" width="0.7" height="0.9" fill="#fff" opacity="0.6"/><rect x="179.5" y="518.6" width="0.7" height="0.9" fill="#fff" opacity="0.6"/><rect x="181.6" y="517.8" width="0.7" height="0.9" fill="#fff" opacity="0.6"/></g>
</svg>
<div class="t" style="left:23.6px;top:7.0px;font-size:11.5px;font-weight:bold;color:#fff;letter-spacing:0.5px;">ZAR1+</div><div class="t" style="left:70.8px;top:7.0px;font-size:11.5px;font-weight:bold;color:#fff;letter-spacing:0.15px;">Zahnradberechnung</div><div class="t" style="left:193px;top:7.0px;font-size:11.5px;font-weight:bold;color:#fff;">-</div><div class="t" style="left:205px;top:7.0px;font-size:11.5px;font-weight:bold;color:#fff;letter-spacing:0.5px;">6336_6.zar</div><div class="t" style="left:10px;top:26px;font-size:11px;letter-spacing:0px;"><u>D</u>atei</div><div class="t" style="left:47px;top:26px;font-size:11px;letter-spacing:-0.2px;"><u>B</u>earbeiten</div><div class="t" style="left:110px;top:26px;font-size:11px;letter-spacing:-0.15px;"><u>A</u>nsicht</div><div class="t" style="left:157px;top:26px;font-size:11px;letter-spacing:-0.7px;"><u>C</u>AD</div><div class="t" style="left:191px;top:26px;font-size:11px;letter-spacing:0px;">STL</div><div class="t" style="left:223px;top:26px;font-size:11px;letter-spacing:0px;">Datenban<u>k</u></div><div class="t" style="left:288px;top:26px;font-size:11px;letter-spacing:-0.15px;">D<u>o</u>kument</div><div class="t" style="left:349.5px;top:26px;font-size:11px;letter-spacing:-1px;"><u>O</u>LE</div><div class="t" style="left:382px;top:26px;font-size:11px;letter-spacing:-0.15px;"><u>H</u>ilfe</div><div class="t" style="left:92.8px;top:76.5px;font-size:16px;letter-spacing:0.04px;">Lastkollektiv m.Belastbarkeitslinie Grübchen</div><div class="t s" style="left:27px;top:67.5px;font-size:9px;">T  [Nm]</div><div class="t s" style="left:27px;top:475.0px;font-size:9px;letter-spacing:-0.2px;">0</div><div class="t s" style="left:27px;top:433.0px;font-size:9px;letter-spacing:-0.2px;">5000</div><div class="t s" style="left:27px;top:391.0px;font-size:9px;letter-spacing:-0.2px;">10E3</div><div class="t s" style="left:27px;top:349.0px;font-size:9px;letter-spacing:-0.2px;">15E3</div><div class="t s" style="left:27px;top:307.0px;font-size:9px;letter-spacing:-0.2px;">20E3</div><div class="t s" style="left:27px;top:265.0px;font-size:9px;letter-spacing:-0.2px;">25E3</div><div class="t s" style="left:27px;top:224.0px;font-size:9px;letter-spacing:-0.2px;">30E3</div><div class="t s" style="left:27px;top:182.0px;font-size:9px;letter-spacing:-0.2px;">35E3</div><div class="t s" style="left:27px;top:140.0px;font-size:9px;letter-spacing:-0.2px;">40E3</div><div class="t s" style="left:27px;top:98.0px;font-size:9px;letter-spacing:-0.2px;">45E3</div><div class="t s" style="right:561px;top:490.7px;font-size:9px;letter-spacing:-0.2px;">0</div><div class="t s" style="right:490px;top:490.7px;font-size:9px;letter-spacing:-0.2px;">2E6</div><div class="t s" style="right:419px;top:490.7px;font-size:9px;letter-spacing:-0.2px;">4E6</div><div class="t s" style="right:348px;top:490.7px;font-size:9px;letter-spacing:-0.2px;">6E6</div><div class="t s" style="right:277px;top:490.7px;font-size:9px;letter-spacing:-0.2px;">8E6</div><div class="t s" style="right:206px;top:490.7px;font-size:9px;letter-spacing:-0.2px;">10E6</div><div class="t s" style="right:135px;top:490.7px;font-size:9px;letter-spacing:-0.2px;">12E6</div><div class="t s" style="right:64px;top:490.7px;font-size:9px;letter-spacing:-0.2px;">14E6</div><div class="t s" style="left:582px;top:461px;font-size:9px;letter-spacing:0.15px;">cycles</div><div class="t s" style="left:437px;top:257px;font-size:9px;letter-spacing:0.15px;">Tnom=25400Nm</div><div class="t s" style="left:347.5px;top:300.5px;font-size:9px;letter-spacing:0.15px;">TeqH=20294Nm</div><div class="t s" style="left:437px;top:339.6px;font-size:9px;letter-spacing:0.15px;">TnH=15625Nm</div>
</body></html>
